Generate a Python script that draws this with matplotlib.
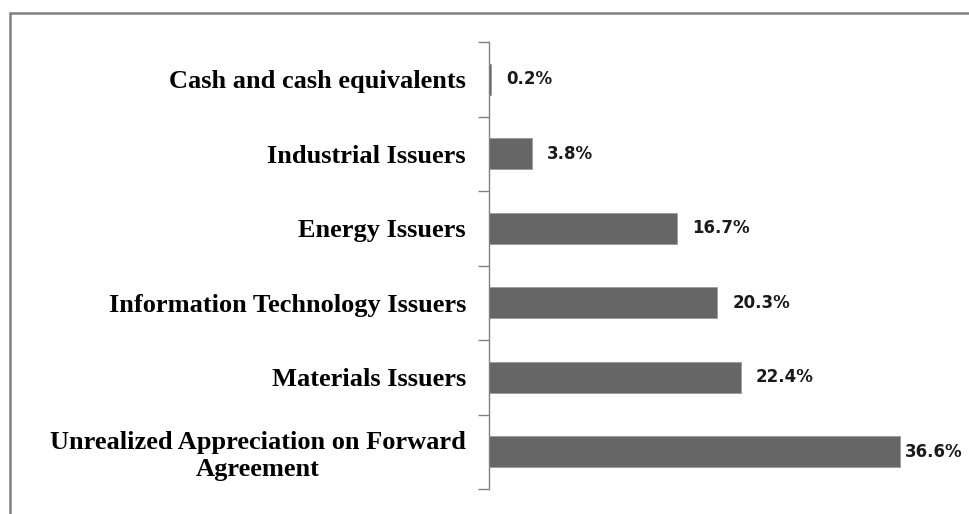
import matplotlib.pyplot as plt
import numpy as np
from matplotlib.patches import Rectangle

categories = [
    "Unrealized Appreciation on Forward\nAgreement",
    "Materials Issuers",
    "Information Technology Issuers",
    "Energy Issuers",
    "Industrial Issuers",
    "Cash and cash equivalents",
]
values = [36.6, 22.4, 20.3, 16.7, 3.8, 0.2]

fig = plt.figure(figsize=(9.69, 5.14), dpi=100)

# grey frame (only top and left edges visible)
fig.patches.append(Rectangle((10.0 / 969, -0.1), 1.2, 1.1 - 13.0 / 514,
                             transform=fig.transFigure, fill=False,
                             edgecolor="#7f7f7f", linewidth=1.8))

ax = fig.add_axes([489 / 969, 25 / 514, 449.6 / 969, 447 / 514])

y = np.arange(len(categories))
bars = ax.barh(y, values, height=0.42, color="#666666",
               edgecolor="#9a9a9a", linewidth=0.6)

ax.set_xlim(0, 40)
ax.set_ylim(-0.5, len(categories) - 0.5)

for spine in ["top", "right", "bottom"]:
    ax.spines[spine].set_visible(False)
ax.spines["left"].set_color("#808080")
ax.spines["left"].set_linewidth(1.0)
ax.set_xticks([])

ax.set_yticks(y)
ax.set_yticklabels(categories, fontfamily="Liberation Serif",
                   fontweight="bold", fontsize=19, multialignment="center",
                   linespacing=1.2)
ax.tick_params(axis="y", which="major", length=0, pad=16.5)
ax.set_yticks(np.arange(len(categories) + 1) - 0.5, minor=True)
ax.tick_params(axis="y", which="minor", length=8, width=1.0, color="#808080")

for bar, v in zip(bars, values):
    off = 3 if v == max(values) else 11
    ax.annotate(f"{v:.1f}%", (bar.get_width(), bar.get_y() + bar.get_height() / 2),
                xytext=(off, 0), textcoords="offset points",
                ha="left", va="center", fontsize=12, fontweight="bold",
                color="#1a1a1a", annotation_clip=False)

fig.savefig("out.png", dpi=100)
